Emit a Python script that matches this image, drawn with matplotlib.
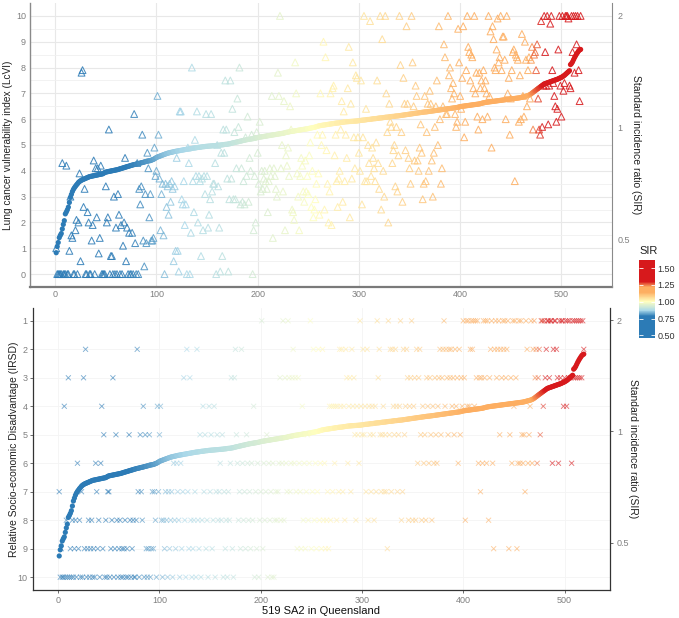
"""Dois painéis: LcVI e IRSD por SA2 ordenadas pelo SIR (eixo secundário em log)."""
import numpy as np
import matplotlib
matplotlib.use('Agg')
import matplotlib.pyplot as plt
import matplotlib.colors as mcolors
import matplotlib.cm as cm

plt.rcParams['font.family'] = ['Liberation Sans', 'DejaVu Sans']

# --- DADOS ---
# SIR ordenado (x1000), uma SA2 por valor
sir_x1000 = [
    460, 478, 490, 505, 512, 518, 533, 548, 561, 585,
    592, 600, 610, 628, 648, 660, 672, 681, 688, 694,
    700, 705, 711, 715, 718, 721, 723, 725, 727, 729,
    731, 733, 735, 737, 738, 739, 740, 741, 742, 743,
    744, 745, 746, 747, 748, 749, 750, 753, 756, 758,
    759, 760, 761, 762, 763, 764, 765, 766, 767, 768,
    769, 770, 772, 773, 775, 776, 778, 779, 781, 782,
    784, 785, 787, 788, 790, 791, 793, 794, 795, 796,
    798, 799, 800, 801, 803, 804, 805, 807, 808, 810,
    811, 812, 813, 814, 816, 818, 820, 823, 826, 830,
    832, 834, 836, 838, 840, 842, 844, 846, 848, 850,
    852, 853, 855, 856, 857, 858, 860, 861, 862, 863,
    864, 865, 866, 867, 868, 869, 870, 871, 872, 873,
    874, 875, 876, 877, 878, 879, 880, 880, 881, 882,
    883, 884, 884, 885, 886, 887, 887, 888, 889, 889,
    890, 890, 891, 891, 892, 892, 893, 893, 894, 894,
    895, 895, 896, 897, 897, 898, 899, 900, 900, 901,
    902, 903, 904, 906, 907, 909, 910, 911, 913, 914,
    915, 917, 918, 919, 921, 922, 923, 925, 926, 927,
    928, 929, 930, 931, 932, 933, 934, 935, 937, 939,
    940, 941, 942, 943, 944, 945, 946, 947, 948, 949,
    950, 951, 952, 953, 954, 955, 956, 957, 958, 959,
    960, 961, 962, 963, 964, 965, 967, 969, 970, 971,
    972, 974, 975, 976, 977, 978, 979, 980, 981, 982,
    983, 984, 985, 986, 987, 988, 989, 990, 991, 992,
    994, 995, 996, 998, 999, 1000, 1002, 1004, 1006, 1008,
    1010, 1011, 1012, 1013, 1014, 1015, 1016, 1017, 1018, 1019,
    1020, 1021, 1022, 1023, 1024, 1025, 1026, 1027, 1027, 1028,
    1029, 1030, 1031, 1032, 1033, 1034, 1035, 1035, 1036, 1036,
    1037, 1037, 1038, 1038, 1039, 1039, 1040, 1040, 1041, 1042,
    1043, 1044, 1045, 1046, 1046, 1047, 1048, 1049, 1050, 1050,
    1051, 1052, 1053, 1054, 1055, 1055, 1056, 1057, 1058, 1059,
    1060, 1060, 1061, 1062, 1063, 1064, 1065, 1065, 1066, 1067,
    1068, 1069, 1070, 1070, 1071, 1072, 1073, 1073, 1074, 1075,
    1076, 1077, 1078, 1079, 1080, 1081, 1082, 1083, 1084, 1085,
    1086, 1087, 1088, 1089, 1090, 1091, 1092, 1093, 1094, 1095,
    1096, 1097, 1098, 1099, 1100, 1100, 1101, 1102, 1103, 1104,
    1105, 1106, 1107, 1108, 1109, 1110, 1111, 1112, 1113, 1114,
    1115, 1116, 1117, 1118, 1119, 1120, 1121, 1122, 1123, 1124,
    1125, 1126, 1127, 1128, 1129, 1130, 1131, 1133, 1135, 1137,
    1138, 1139, 1140, 1141, 1142, 1143, 1144, 1145, 1146, 1147,
    1148, 1149, 1150, 1151, 1152, 1153, 1154, 1155, 1156, 1158,
    1160, 1162, 1164, 1165, 1167, 1168, 1169, 1170, 1171, 1172,
    1173, 1174, 1175, 1176, 1177, 1178, 1179, 1180, 1181, 1182,
    1183, 1184, 1185, 1186, 1187, 1188, 1189, 1190, 1191, 1192,
    1193, 1194, 1195, 1196, 1197, 1198, 1199, 1200, 1201, 1203,
    1205, 1207, 1209, 1211, 1213, 1215, 1218, 1221, 1225, 1230,
    1236, 1242, 1248, 1254, 1260, 1266, 1272, 1278, 1284, 1290,
    1296, 1302, 1308, 1311, 1314, 1317, 1320, 1323, 1326, 1329,
    1332, 1335, 1338, 1341, 1344, 1347, 1351, 1355, 1359, 1363,
    1368, 1374, 1380, 1388, 1396, 1404, 1412, 1420, 1475, 1485,
    1500, 1520, 1540, 1558, 1575, 1590, 1605, 1615, 1620,
]

# LcVI (x10) na mesma ordem
lcvi_x10 = [
    10, 0, 0, 0, 0, 0, 43, 0, 0, 0,
    42, 0, 0, 9, 30, 15, 14, 0, 0, 17,
    21, 0, 20, 39, 5, 78, 79, 26, 33, 0,
    0, 24, 20, 0, 0, 13, 19, 44, 0, 41,
    22, 41, 8, 14, 42, 0, 0, 0, 0, 34,
    20, 22, 56, 0, 7, 7, 0, 30, 0, 18,
    0, 31, 23, 0, 19, 0, 11, 20, 45, 5,
    18, 0, 16, 0, 0, 16, 0, 62, 12, 0,
    43, 0, 33, 27, 34, 54, 13, 3, 31, 12,
    47, 41, 22, 31, 13, 13, 14, 49, 38, 40,
    69, 54, 37, 17, 31, 35, 15, 0, 35, 26,
    34, 23, 35, 28, 36, 33, 5, 34, 9, 45,
    9, 1, 63, 63, 29, 27, 36, 19, 27, 0,
    49, 43, 0, 16, 80, 36, 24, 52, 38, 63,
    20, 38, 36, 7, 37, 17, 38, 31, 62, 38,
    18, 23, 29, 62, 32, 35, 35, 43, 0, 50,
    34, 18, 1, 47, 7, 56, 47, 75, 56, 37,
    1, 29, 75, 37, 64, 29, 55, 29, 41, 68,
    57, 80, 27, 41, 28, 36, 27, 53, 38, 61,
    28, 45, 40, 54, 0, 17, 38, 20, 55, 47,
    35, 59, 32, 40, 33, 37, 40, 36, 33, 24,
    36, 41, 38, 69, 14, 41, 38, 33, 30, 78,
    69, 100, 41, 50, 32, 67, 17, 46, 42, 49,
    38, 65, 56, 25, 24, 21, 82, 70, 39, 30,
    17, 38, 45, 42, 32, 28, 44, 32, 38, 31,
    46, 51, 26, 40, 22, 25, 29, 35, 54, 39,
    23, 70, 50, 54, 90, 25, 84, 48, 35, 20,
    32, 70, 19, 72, 73, 46, 54, 36, 26, 37,
    40, 56, 67, 28, 63, 36, 54, 45, 72, 88,
    22, 66, 37, 82, 53, 41, 77, 76, 53, 47,
    40, 75, 27, 53, 100, 36, 64, 36, 50, 43,
    98, 38, 49, 45, 41, 36, 51, 75, 43, 33,
    100, 25, 91, 40, 30, 100, 70, 55, 20, 66,
    59, 57, 43, 48, 50, 34, 57, 32, 46, 100,
    81, 55, 28, 76, 66, 48, 96, 66, 45, 41,
    35, 100, 82, 65, 44, 73, 69, 44, 40, 49,
    58, 47, 29, 35, 69, 36, 55, 66, 40, 71,
    66, 44, 30, 47, 57, 65, 75, 50, 96, 60,
    35, 41, 65, 89, 84, 62, 62, 100, 77, 80,
    72, 68, 74, 70, 62, 57, 59, 95, 82, 69,
    64, 76, 96, 53, 59, 79, 100, 88, 86, 75,
    85, 84, 72, 100, 70, 78, 61, 56, 78, 72,
    75, 60, 79, 72, 75, 70, 61, 100, 69, 94,
    49, 96, 91, 80, 79, 87, 99, 82, 84, 100,
    79, 92, 92, 83, 60, 100, 70, 76, 54, 68,
    79, 86, 87, 36, 85, 84, 83, 59, 77, 60,
    93, 69, 61, 90, 83, 65, 79, 84, 68, 83,
    88, 56, 85, 86, 79, 89, 68, 56, 54, 98,
    57, 73, 100, 86, 73, 100, 58, 73, 97, 100,
    79, 74, 69, 65, 59, 64, 87, 100, 73, 61,
    100, 71, 74, 100, 100, 100, 99, 73, 72, 100,
    86, 100, 78, 100, 89, 100, 79, 67, 100,
]

# IRSD (decil) na mesma ordem
irsd = [
    7, 10, 9, 10, 10, 4, 10, 8, 10, 3,
    10, 9, 10, 8, 10, 9, 8, 10, 6, 9,
    8, 10, 7, 10, 3, 9, 2, 10, 9, 8,
    10, 9, 8, 10, 9, 10, 6, 7, 9, 8,
    10, 6, 4, 9, 5, 10, 8, 10, 7, 7,
    10, 9, 8, 3, 10, 9, 5, 8, 10, 9,
    8, 10, 9, 10, 9, 8, 10, 9, 10, 5,
    8, 10, 9, 8, 10, 10, 8, 2, 7, 10,
    5, 7, 8, 4, 10, 5, 9, 10, 9, 5,
    10, 9, 7, 9, 7, 8, 10, 4, 7, 5,
    4, 8, 10, 8, 9, 7, 8, 10, 7, 9,
    8, 7, 10, 6, 8, 9, 6, 7, 8, 10,
    6, 9, 7, 3, 8, 10, 2, 7, 9, 3,
    8, 10, 9, 8, 7, 10, 2, 8, 9, 5,
    10, 8, 4, 7, 5, 9, 8, 10, 4, 7,
    5, 9, 8, 4, 10, 7, 5, 8, 7, 6,
    8, 5, 10, 7, 9, 8, 10, 7, 8, 6,
    3, 9, 10, 3, 2, 5, 6, 8, 7, 9,
    2, 6, 8, 7, 9, 5, 6, 8, 7, 9,
    6, 8, 4, 10, 7, 9, 6, 10, 8, 7,
    1, 9, 6, 8, 7, 5, 10, 6, 8, 7,
    10, 6, 10, 8, 7, 8, 7, 6, 3, 8,
    6, 1, 8, 3, 6, 7, 1, 3, 7, 6,
    3, 2, 6, 3, 7, 9, 3, 6, 7, 9,
    4, 8, 6, 9, 7, 5, 8, 6, 1, 9,
    7, 2, 8, 6, 9, 7, 2, 8, 6, 9,
    2, 8, 6, 9, 8, 7, 9, 4, 8, 4,
    7, 4, 6, 4, 8, 4, 7, 2, 4, 2,
    7, 4, 8, 2, 3, 6, 4, 3, 7, 2,
    4, 3, 5, 8, 4, 5, 6, 1, 4, 5,
    2, 5, 4, 7, 2, 8, 4, 5, 7, 4,
    5, 8, 4, 7, 1, 3, 2, 5, 7, 5,
    4, 7, 5, 7, 9, 1, 5, 2, 7, 2,
    4, 5, 2, 4, 7, 5, 4, 1, 8, 7,
    2, 5, 4, 2, 3, 8, 4, 3, 1, 8,
    4, 3, 8, 2, 6, 3, 2, 5, 8, 4,
    6, 5, 8, 3, 4, 6, 3, 5, 8, 4,
    6, 3, 5, 6, 4, 3, 2, 5, 3, 2,
    1, 4, 2, 3, 5, 2, 3, 2, 4, 3,
    5, 2, 4, 3, 6, 2, 5, 3, 4, 1,
    3, 8, 1, 4, 1, 4, 2, 1, 2, 1,
    4, 1, 3, 1, 6, 3, 7, 3, 6, 1,
    3, 1, 6, 1, 8, 3, 2, 1, 6, 9,
    2, 1, 3, 2, 1, 5, 2, 3, 1, 2,
    1, 3, 2, 1, 9, 5, 3, 6, 1, 4,
    1, 3, 9, 6, 1, 6, 1, 5, 6, 5,
    7, 1, 2, 6, 5, 4, 1, 6, 2, 1,
    3, 2, 6, 3, 2, 5, 1, 1, 4, 1,
    3, 2, 1, 1, 3, 1, 1, 6, 2, 1,
    1, 2, 3, 6, 1, 3, 1, 1, 4, 3,
    1, 4, 1, 3, 1, 3, 6, 1, 3, 1,
    3, 1, 3, 1, 3, 1, 3, 1, 2,
]

sir_ticks = [0.5, 1, 2]
sir_tick_labels = ['0.5', '1', '2']
cbar_ticks = [0.5, 0.75, 1.0, 1.25, 1.5]
cbar_tick_labels = ['0.50', '0.75', '1.00', '1.25', '1.50']

sir = np.array(sir_x1000) / 1000
lcvi = np.array(lcvi_x10) / 10
irsd = np.array(irsd)
assert len(sir) == len(lcvi) == len(irsd) == 519, (len(sir), len(lcvi), len(irsd))
sa2 = np.arange(1, len(sir) + 1)

# --- Paleta (RdYlBu invertida) ---
vmin, vmax = sir.min(), sir.max()
stops = [(0.46, '#2c7bb6'), (0.785, '#2c7bb6'), (0.87, '#abd9e9'), (1.0, '#ffffbf'),
         (1.14, '#fdae61'), (1.22, '#fdae61'), (1.30, '#d7191c'), (1.62, '#d7191c')]
cmap_sir = mcolors.LinearSegmentedColormap.from_list(
    'sir', [((v - vmin) / (vmax - vmin), c) for v, c in stops])
norm = mcolors.Normalize(vmin=vmin, vmax=vmax)
cores = cmap_sir(norm(sir))

W, H = 679, 618
def caixa(l, t, r, b):
    return [l / W, 1 - b / H, (r - l) / W, (b - t) / H]

fig = plt.figure(figsize=(W / 100, H / 100), dpi=100)
tick_cor = '#808080'
sir_lim = (0.372, 2.16)
xlim = (-24.9, 544.9)

# --- Painel 1: LcVI ---
ax1 = fig.add_axes(caixa(30, 3, 612, 287))
ax1.scatter(sa2, lcvi, marker='^', s=24, facecolors='none',
            edgecolors=cores, linewidths=0.75, alpha=0.85, zorder=2)
ax1.set_xlim(xlim)
ax1.set_ylim(-0.5, 10.5)
ax1.set_xticks(np.arange(0, 501, 100))
ax1.set_xticks(np.arange(50, 551, 100), minor=True)
ax1.set_yticks(np.arange(0, 11, 1))
ax1.set_yticks(np.arange(0.5, 10.5, 1), minor=True)
ax1.grid(True, which='major', color='#e8e8e8', linewidth=0.8)
ax1.grid(True, which='minor', color='#f0f0f0', linewidth=0.6)
ax1.set_axisbelow(True)
ax1.tick_params(which='both', length=0, labelsize=6.5, labelcolor=tick_cor, pad=3)
ax1.tick_params(axis='x', pad=2)
ax1.set_ylabel('Lung cancer vulnerability index (LcVI)', fontsize=7.3, color='#222222')
ax1.yaxis.set_label_coords(-0.029, 0.5)
for lado in ['top', 'right']:
    ax1.spines[lado].set_visible(False)
ax1.spines['left'].set_color('#8a8a8a')
ax1.spines['left'].set_linewidth(1.0)
ax1.spines['bottom'].set_color('#7a7a7a')
ax1.spines['bottom'].set_linewidth(1.6)

ax1r = ax1.twinx()
ax1r.set_yscale('log')
ax1r.scatter(sa2, sir, s=14, c=cores, edgecolors='none', zorder=3)
ax1r.set_ylim(sir_lim)
ax1r.set_yticks(sir_ticks)
ax1r.set_yticklabels(sir_tick_labels)
ax1r.minorticks_off()
ax1r.tick_params(length=0, labelsize=6.5, labelcolor=tick_cor, pad=4)
ax1r.set_ylabel('Standard incidence ratio (SIR)', fontsize=7.5, color='#222222',
                rotation=270, va='center')
ax1r.yaxis.set_label_coords(1.042, 0.5)
for lado in ['top', 'left', 'bottom']:
    ax1r.spines[lado].set_visible(False)
ax1r.spines['right'].set_color('#8a8a8a')
ax1r.spines['right'].set_linewidth(0.8)

# --- Painel 2: IRSD ---
ax2 = fig.add_axes(caixa(33, 308, 610, 590))
ax2.scatter(sa2, irsd, marker='x', s=13, c=cores, linewidths=0.65, alpha=0.6, zorder=2)
ax2.set_xlim(xlim)
ax2.set_ylim(10.45, 0.55)
ax2.set_xticks(np.arange(0, 501, 100))
ax2.set_yticks(np.arange(1, 11, 1))
ax2.grid(True, which='major', color='#f4f4f4', linewidth=0.6)
ax2.set_axisbelow(True)
ax2.tick_params(length=2, color='#555555', width=0.6, labelsize=6.5,
                labelcolor=tick_cor, pad=2)
ax2.set_xlabel('519 SA2 in Queensland', fontsize=8, color='#111111')
ax2.xaxis.set_label_coords(0.5, -0.058)
ax2.set_ylabel('Relative Socio-economic Disadvantage (IRSD)', fontsize=7.5, color='#222222')
ax2.yaxis.set_label_coords(-0.025, 0.5)
ax2.spines['top'].set_visible(False)
ax2.spines['right'].set_visible(False)
for lado in ['left', 'bottom']:
    ax2.spines[lado].set_color('#333333')
    ax2.spines[lado].set_linewidth(0.9)

ax2r = ax2.twinx()
ax2r.set_yscale('log')
ax2r.scatter(sa2, sir, s=14, c=cores, edgecolors='none', zorder=3)
ax2r.set_ylim(sir_lim)
ax2r.set_yticks(sir_ticks)
ax2r.set_yticklabels(sir_tick_labels)
ax2r.minorticks_off()
ax2r.tick_params(length=2, color='#555555', width=0.6, labelsize=6.5,
                 labelcolor=tick_cor, pad=3)
ax2r.set_ylabel('Standard incidence ratio (SIR)', fontsize=7.5, color='#222222',
                rotation=270, va='center')
ax2r.yaxis.set_label_coords(1.04, 0.5)
for lado in ['top', 'left', 'bottom']:
    ax2r.spines[lado].set_visible(False)
ax2r.spines['right'].set_color('#333333')
ax2r.spines['right'].set_linewidth(0.9)

# --- Legenda de cor ---
cax = fig.add_axes(caixa(639, 260, 655, 338))
cbar = fig.colorbar(cm.ScalarMappable(norm=norm, cmap=cmap_sir), cax=cax)
cbar.outline.set_visible(False)
cbar.set_ticks(cbar_ticks)
cbar.set_ticklabels(cbar_tick_labels)
cax.tick_params(left=True, right=True, direction='in', length=3, width=0.6,
                color='white', labelsize=6.5, labelcolor='#333333', pad=2)
cax.set_title('SIR', fontsize=8, loc='left', pad=4, color='#222222')

fig.savefig('out.png', dpi=100)
